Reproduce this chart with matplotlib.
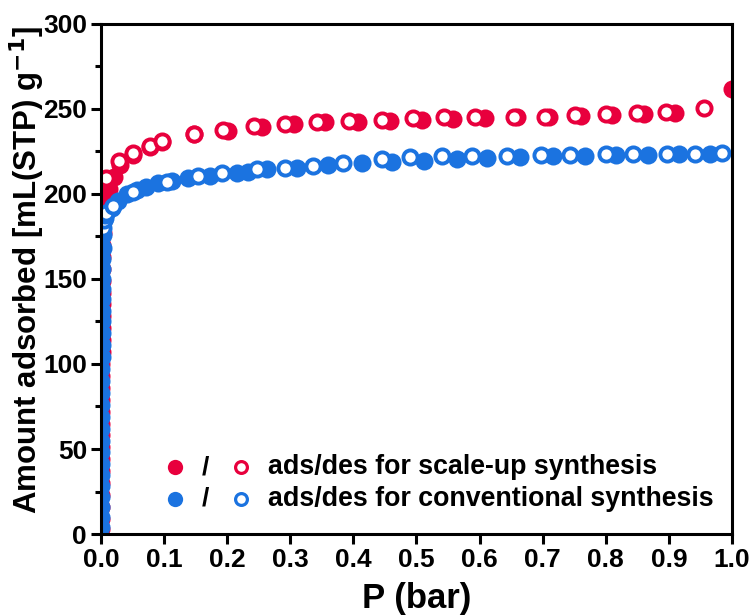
import numpy as np
import matplotlib.pyplot as plt

plt.rcParams['font.family'] = ['Liberation Sans', 'DejaVu Sans']
plt.rcParams['font.weight'] = 'bold'

RED = '#E8003D'
BLUE = '#1B73E0'

# scale-up synthesis, adsorption branch (filled)
red_ads_p = [0.0001, 0.0002, 0.0002, 0.0003, 0.0003, 0.0004, 0.0004, 0.0005, 0.0005, 0.0006,
             0.0006, 0.0007, 0.0007, 0.0008, 0.0008, 0.0009, 0.0010, 0.0011, 0.0012, 0.0013,
             0.0014, 0.0016, 0.0018, 0.0020, 0.0023, 0.0026, 0.0030, 0.0040, 0.006, 0.012,
             0.02, 0.03, 0.05, 0.078, 0.096, 0.147, 0.202, 0.255, 0.306, 0.355,
             0.408, 0.458, 0.508, 0.558, 0.609, 0.66, 0.71, 0.76, 0.81, 0.86,
             0.91, 1.0]
red_ads_v = [3, 9, 16, 23, 30, 37, 44, 51, 58, 65,
             72, 79, 86, 93, 100, 107, 114, 121, 128, 135,
             142, 149, 156, 163, 170, 177, 184, 190, 196, 203,
             210, 217, 223, 227.5, 230.8, 235, 237.2, 239.6, 241.2, 242.2,
             242.5, 243.1, 243.5, 244, 244.5, 245, 245.5, 246, 246.5, 247,
             247.5, 262]

# scale-up synthesis, desorption branch (open)
red_des_p = [0.008, 0.029, 0.05, 0.078, 0.096, 0.147, 0.194, 0.243, 0.292, 0.342, 0.393,
             0.445, 0.495, 0.543, 0.592, 0.655, 0.704, 0.751, 0.8, 0.849, 0.896, 0.955]
red_des_v = [209.6, 219.4, 224.3, 228, 231.4, 235.5, 237.6, 240, 241, 242.4, 242.8,
             243.5, 244.5, 245, 245, 245.5, 245.5, 246.5, 247, 247.5, 248.4, 250.4]

# conventional synthesis, adsorption branch (filled)
blue_ads_p = [0.0001, 0.0002, 0.0002, 0.0003, 0.0003, 0.0004, 0.0004, 0.0005, 0.0005, 0.0006,
              0.0006, 0.0007, 0.0007, 0.0008, 0.0008, 0.0009, 0.0010, 0.0011, 0.0012, 0.0013,
              0.0014, 0.0016, 0.0018, 0.0020, 0.0023, 0.0026, 0.0030, 0.006, 0.017, 0.027,
              0.041, 0.057, 0.072, 0.091, 0.112, 0.138, 0.173, 0.215, 0.233, 0.263,
              0.31, 0.36, 0.413, 0.461, 0.512, 0.564, 0.612, 0.664, 0.716, 0.767,
              0.816, 0.867, 0.916, 0.965]
blue_ads_v = [4, 10, 16, 22, 28, 35, 41, 48, 55, 62,
              69, 76, 83, 90, 97, 104, 111, 118, 125, 131,
              138, 144, 150, 156, 162, 168, 176, 186, 192, 196,
              200, 202.5, 204.3, 206.5, 207.5, 209.2, 210.6, 212.2, 213.1, 214.5,
              215.5, 217, 218.4, 219, 219.4, 220.4, 221.4, 222, 222.4, 222.4,
              223, 223, 223.3, 223.3]

# conventional synthesis, desorption branch (open)
blue_des_p = [0.0030, 0.0045, 0.006, 0.008, 0.0195, 0.051, 0.104, 0.153,
              0.191, 0.248, 0.292, 0.336, 0.384, 0.446, 0.489, 0.54, 0.588, 0.644,
              0.698, 0.743, 0.8, 0.843, 0.897, 0.941, 0.984]
blue_des_v = [180, 184.5, 187.5, 189, 193, 201.4, 207.3, 210.6,
              212.5, 214.5, 215.5, 216.5, 218, 220.6, 222, 222.4, 222.4, 222.5,
              223, 223, 223.3, 223.3, 223.3, 223.3, 224.3]

fig = plt.figure(figsize=(7.53, 6.15), dpi=100)
ax = fig.add_axes([0.1341, 0.1317, 0.8380, 0.8293])

filled = dict(linestyle='none', marker='o', markersize=13, markeredgewidth=0)
hollow = dict(linestyle='none', marker='o', markersize=10.2, markeredgewidth=2.8,
              markerfacecolor='white')

ax.plot(red_ads_p, red_ads_v, color=RED, **filled)
ax.plot(red_des_p, red_des_v, color=RED, markeredgecolor=RED, **hollow)
ax.plot(blue_ads_p, blue_ads_v, color=BLUE, **filled)
ax.plot(blue_des_p, blue_des_v, color=BLUE, markeredgecolor=BLUE, **hollow)

ax.set_xlim(0, 1.0)
ax.set_ylim(0, 300)
ax.set_xticks(np.arange(0, 1.01, 0.1))
ax.set_xticklabels(['%.1f' % t for t in np.arange(0, 1.01, 0.1)])
ax.set_yticks(np.arange(0, 301, 50))
ax.set_yticks(np.arange(25, 300, 50), minor=True)

for s in ax.spines.values():
    s.set_linewidth(2.2)
ax.tick_params(axis='both', which='major', width=2.2, length=7, labelsize=19, pad=3)
ax.tick_params(axis='y', which='minor', width=2.2, length=4.5)

ax.set_xlabel('P (bar)', fontsize=25, fontweight='bold', labelpad=7)
ax.set_ylabel('Amount adsorbed [mL(STP) g$^{\\mathbf{-1}}$]', fontsize=22.5,
              fontweight='bold')
ax.yaxis.set_label_coords(-0.086, 0.517)

# legend drawn by hand: filled / open pairs
rows = [(0.131, RED, 'ads/des for scale-up synthesis'),
        (0.069, BLUE, 'ads/des for conventional synthesis')]
for y, c, label in rows:
    ax.plot([0.117], [y], transform=ax.transAxes, color=c, linestyle='none',
            marker='o', markersize=11, markeredgewidth=0, clip_on=False)
    ax.text(0.166, y, '/', transform=ax.transAxes, fontsize=19, fontweight='bold',
            ha='center', va='center')
    ax.plot([0.222], [y], transform=ax.transAxes, color=c, linestyle='none',
            marker='o', markersize=8.5, markeredgewidth=2.3, markerfacecolor='white',
            markeredgecolor=c, clip_on=False)
    ax.text(0.265, y, label, transform=ax.transAxes, fontsize=19.3, fontweight='bold',
            ha='left', va='center')

fig.savefig('out.png', dpi=100)
